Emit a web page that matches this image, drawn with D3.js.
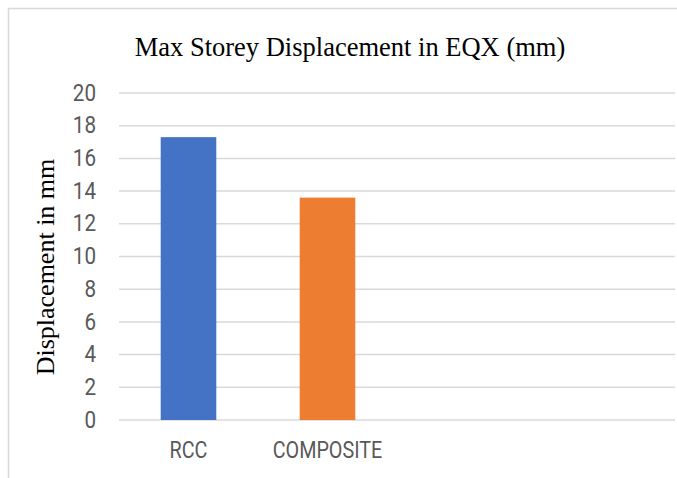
<!DOCTYPE html>
<html>
<head>
<meta charset="utf-8">
<script src="https://cdn.jsdelivr.net/npm/d3@7"></script>
<style>
  body{margin:0;background:#fff;}
  svg{display:block;}
</style>
</head>
<body>
<script>
var categories=['RCC','COMPOSITE','',' '];
var values=[17.3,13.6,null,null];
var colors=['#4472c4','#ed7d31'];
var yTicks=[0,2,4,6,8,10,12,14,16,18,20];

var width=677,height=478;
var margin={left:119,right:2,top:93,bottom:58};
var narrow=0.86; // squeeze axis labels horizontally

var svg=d3.select('body').append('svg')
  .attr('width',width)
  .attr('height',height);

// chart frame
svg.append('path')
  .attr('d','M8.5,'+height+'V8.5H'+width)
  .attr('fill','none')
  .attr('stroke','#d9d9d9')
  .attr('stroke-width',1.5);

var x=d3.scaleBand()
  .domain(categories)
  .range([margin.left,width-margin.right])
  .paddingInner(0.6)
  .paddingOuter(0.3);

var y=d3.scaleLinear()
  .domain([0,20])
  .range([height-margin.bottom,margin.top]);

// gridlines
svg.append('g').selectAll('line')
  .data(yTicks)
  .enter()
  .append('line')
  .attr('x1',margin.left)
  .attr('x2',width-margin.right)
  .attr('y1',d=>y(d))
  .attr('y2',d=>y(d))
  .attr('stroke','#d9d9d9')
  .attr('stroke-width',1.5);

// y tick labels
svg.append('g').selectAll('text')
  .data(yTicks)
  .enter()
  .append('text')
  .attr('transform',d=>'translate(96,'+(y(d)-1)+') scale('+narrow+',1)')
  .attr('dy','0.36em')
  .attr('text-anchor','end')
  .style('font-family','Roboto,sans-serif')
  .style('font-size','24px')
  .style('fill','#595959')
  .text(d=>d);

// bars
svg.append('g').selectAll('rect')
  .data(values.map((v,i)=>({cat:categories[i],v:v,i:i})).filter(d=>d.v!=null))
  .enter()
  .append('rect')
  .attr('x',d=>x(d.cat))
  .attr('width',x.bandwidth())
  .attr('y',d=>y(d.v))
  .attr('height',d=>y(0)-y(d.v))
  .style('fill',d=>colors[d.i]);

// x labels
svg.append('g').selectAll('text')
  .data(categories.filter(c=>c.trim()!=''))
  .enter()
  .append('text')
  .attr('transform',d=>'translate('+(x(d)+x.bandwidth()/2)+',458) scale('+narrow+',1)')
  .attr('text-anchor','middle')
  .style('font-family','Roboto,sans-serif')
  .style('font-size','23px')
  .style('fill','#595959')
  .text(d=>d);

// title
svg.append('text')
  .attr('x',350)
  .attr('y',56)
  .attr('text-anchor','middle')
  .style('font-family','"Liberation Serif","Times New Roman",serif')
  .style('font-size','26.5px')
  .style('fill','#000')
  .text('Max Storey Displacement in EQX (mm)');

// y axis title
svg.append('text')
  .attr('transform','translate(54,267) rotate(-90)')
  .attr('text-anchor','middle')
  .style('font-family','"Liberation Serif","Times New Roman",serif')
  .style('font-size','26px')
  .style('fill','#000')
  .text('Displacement in mm');
</script>
</body>
</html>
